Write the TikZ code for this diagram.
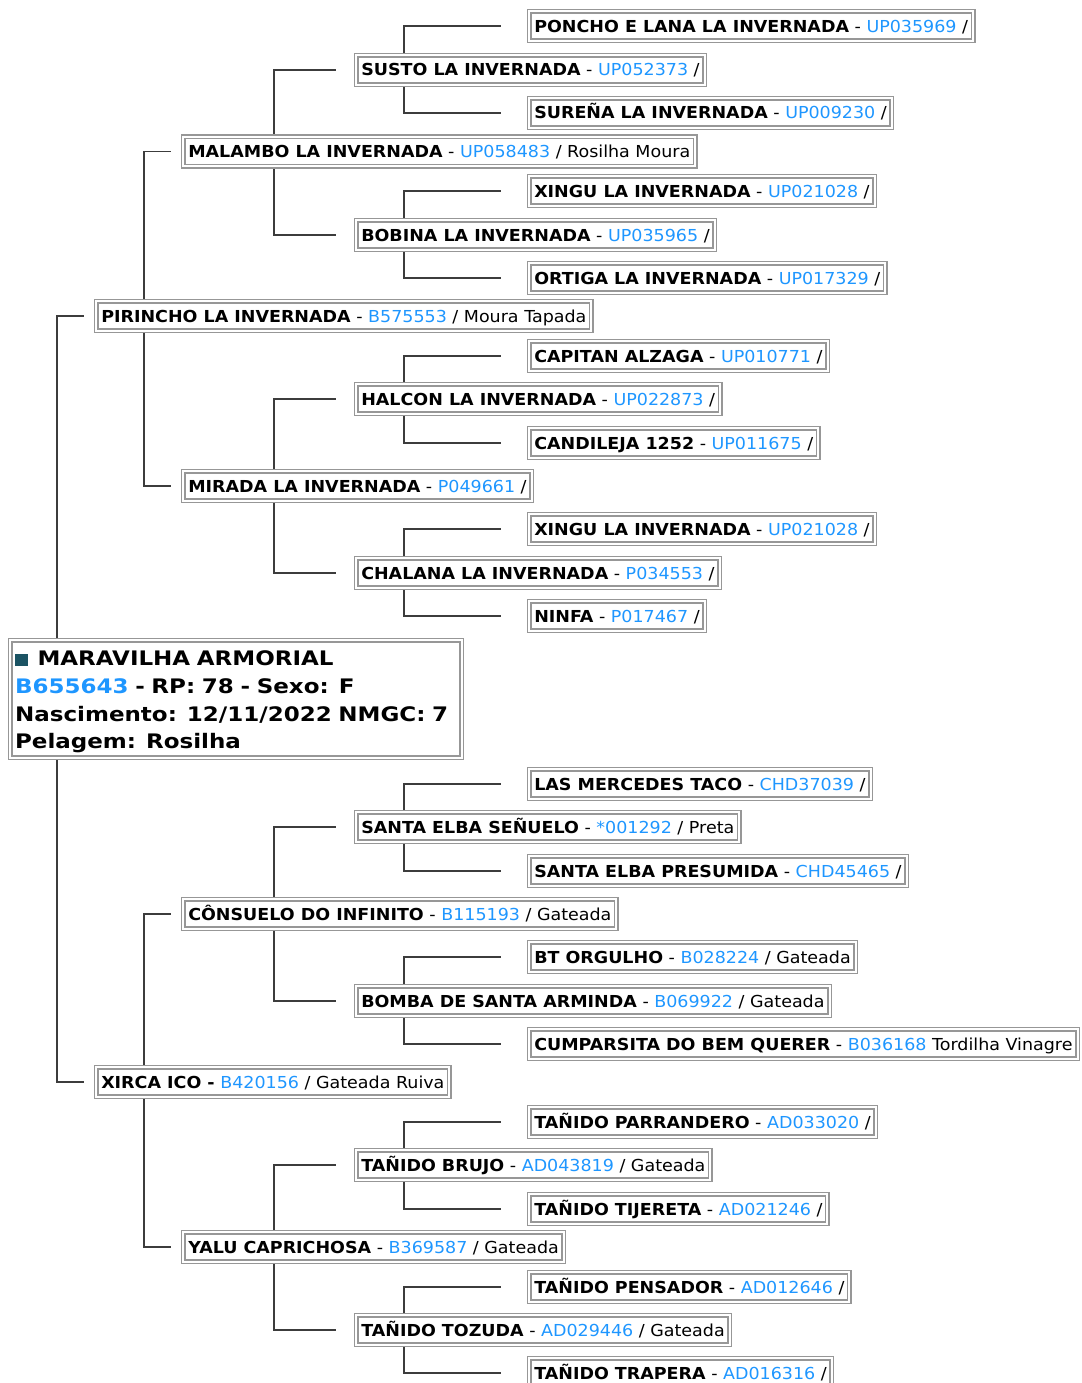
\documentclass[tikz,border=0pt]{standalone}
\usepackage{fontspec}
\setmainfont{DejaVu Sans}
\newfontfamily\boxfont[FakeStretch=1.06]{DejaVu Sans}
\newfontfamily\rootfont[FakeStretch=1.15]{DejaVu Sans}
\usetikzlibrary{backgrounds}

\definecolor{regblue}{HTML}{1E96FF}
\definecolor{boxgray}{HTML}{979797}
\definecolor{linkgray}{HTML}{3C3C3C}
\definecolor{markteal}{HTML}{1B5363}

% name - registry / coat
\newcommand{\horse}[3]{\textbf{#1} - \textcolor{regblue}{#2} / #3}

\begin{document}
\begin{tikzpicture}[x=1pt, y=-1pt,
  horse/.style={draw=boxgray, double=white, line width=1.5pt, double distance=2pt,
    anchor=west, inner xsep=5pt, inner ysep=0pt, minimum height=29.5pt,
    text height=12pt, text depth=0pt, font=\boxfont\fontsize{16.5}{19}\selectfont},
  root/.style={horse, anchor=north west, align=left, minimum height=0pt, text width=442pt,
    inner xsep=4.8pt, inner ysep=4.8pt, text height=, text depth=,
    font=\rootfont\fontsize{20}{27.7}\selectfont\bfseries},
  link/.style={draw=linkgray, line width=1.6pt}
  ]
  \useasboundingbox (0,0) rectangle (1081,1383);
  \clip (0,0) rectangle (1081,1383);

  \node[root] (maravilha) at (9.5,639.5)
    {\rule{0pt}{20.7pt}\textcolor{markteal}{\rule{12.5pt}{12pt}}\hspace{10pt}MARAVILHA ARMORIAL\\
     \textcolor{regblue}{B655643} - RP: 78 - Sexo: F\\
     Nascimento: 12/11/2022 NMGC: 7\\
     Pelagem: Rosilha};

  % parents
  \node[horse] (pirincho) at (95.5,316) {\horse{PIRINCHO LA INVERNADA}{B575553}{Moura Tapada}};
  \node[horse] (xirca) at (95.5,1082) {\textbf{XIRCA ICO -} \textcolor{regblue}{B420156} / Gateada Ruiva};

  % grandparents
  \node[horse] (malambo) at (182.5,151.5) {\horse{MALAMBO LA INVERNADA}{UP058483}{Rosilha Moura}};
  \node[horse] (mirada) at (182.5,486) {\horse{MIRADA LA INVERNADA}{P049661}{}};
  \node[horse] (consuelo) at (182.5,914) {\horse{CÔNSUELO DO INFINITO}{B115193}{Gateada}};
  \node[horse] (yalu) at (182.5,1247) {\horse{YALU CAPRICHOSA}{B369587}{Gateada}};

  % great-grandparents
  \node[horse] (susto) at (355.5,70) {\horse{SUSTO LA INVERNADA}{UP052373}{}};
  \node[horse] (bobina) at (355.5,235) {\horse{BOBINA LA INVERNADA}{UP035965}{}};
  \node[horse] (halcon) at (355.5,399) {\horse{HALCON LA INVERNADA}{UP022873}{}};
  \node[horse] (chalana) at (355.5,573) {\horse{CHALANA LA INVERNADA}{P034553}{}};
  \node[horse] (senuelo) at (355.5,827) {\horse{SANTA ELBA SEÑUELO}{*001292}{Preta}};
  \node[horse] (bomba) at (355.5,1001) {\horse{BOMBA DE SANTA ARMINDA}{B069922}{Gateada}};
  \node[horse] (brujo) at (355.5,1165) {\horse{TAÑIDO BRUJO}{AD043819}{Gateada}};
  \node[horse] (tozuda) at (355.5,1330) {\horse{TAÑIDO TOZUDA}{AD029446}{Gateada}};

  % great-great-grandparents
  \node[horse] (poncho) at (528.5,26.2) {\horse{PONCHO E LANA LA INVERNADA}{UP035969}{}};
  \node[horse] (surena) at (528.5,113) {\horse{SUREÑA LA INVERNADA}{UP009230}{}};
  \node[horse] (xingua) at (528.5,191) {\horse{XINGU LA INVERNADA}{UP021028}{}};
  \node[horse] (ortiga) at (528.5,278) {\horse{ORTIGA LA INVERNADA}{UP017329}{}};
  \node[horse] (capitan) at (528.5,356) {\horse{CAPITAN ALZAGA}{UP010771}{}};
  \node[horse] (candileja) at (528.5,443) {\horse{CANDILEJA 1252}{UP011675}{}};
  \node[horse] (xingub) at (528.5,529) {\horse{XINGU LA INVERNADA}{UP021028}{}};
  \node[horse] (ninfa) at (528.5,616) {\horse{NINFA}{P017467}{}};
  \node[horse] (mercedes) at (528.5,784) {\horse{LAS MERCEDES TACO}{CHD37039}{}};
  \node[horse] (presumida) at (528.5,871) {\horse{SANTA ELBA PRESUMIDA}{CHD45465}{}};
  \node[horse] (orgulho) at (528.5,957) {\horse{BT ORGULHO}{B028224}{Gateada}};
  \node[horse] (cumparsita) at (528.5,1044) {\textbf{CUMPARSITA DO BEM QUERER} - \textcolor{regblue}{B036168} Tordilha Vinagre};
  \node[horse] (parrandero) at (528.5,1122) {\horse{TAÑIDO PARRANDERO}{AD033020}{}};
  \node[horse] (tijereta) at (528.5,1209) {\horse{TAÑIDO TIJERETA}{AD021246}{}};
  \node[horse] (pensador) at (528.5,1287) {\horse{TAÑIDO PENSADOR}{AD012646}{}};
  \node[horse] (trapera) at (528.5,1373) {\horse{TAÑIDO TRAPERA}{AD016316}{}};

  \begin{scope}[on background layer]
    \foreach \p/\s/\d/\tx/\gx in {maravilha/pirincho/xirca/47.5/11.5,
        pirincho/malambo/mirada/48.5/11.5, xirca/consuelo/yalu/48.5/11.5,
        malambo/susto/bobina/91.5/19.5, mirada/halcon/chalana/91.5/19.5,
        consuelo/senuelo/bomba/91.5/19.5, yalu/brujo/tozuda/91.5/19.5,
        susto/poncho/surena/48.5/27.5, bobina/xingua/ortiga/48.5/27.5,
        halcon/capitan/candileja/48.5/27.5, chalana/xingub/ninfa/48.5/27.5,
        senuelo/mercedes/presumida/48.5/27.5, bomba/orgulho/cumparsita/48.5/27.5,
        brujo/parrandero/tijereta/48.5/27.5, tozuda/pensador/trapera/48.5/27.5}
    {
      \draw[link] ([xshift=\tx pt]\p.north west) |- ([xshift=-\gx pt]\s.west);
      \draw[link] ([xshift=\tx pt]\p.south west) |- ([xshift=-\gx pt]\d.west);
    }
  \end{scope}
\end{tikzpicture}
\end{document}
